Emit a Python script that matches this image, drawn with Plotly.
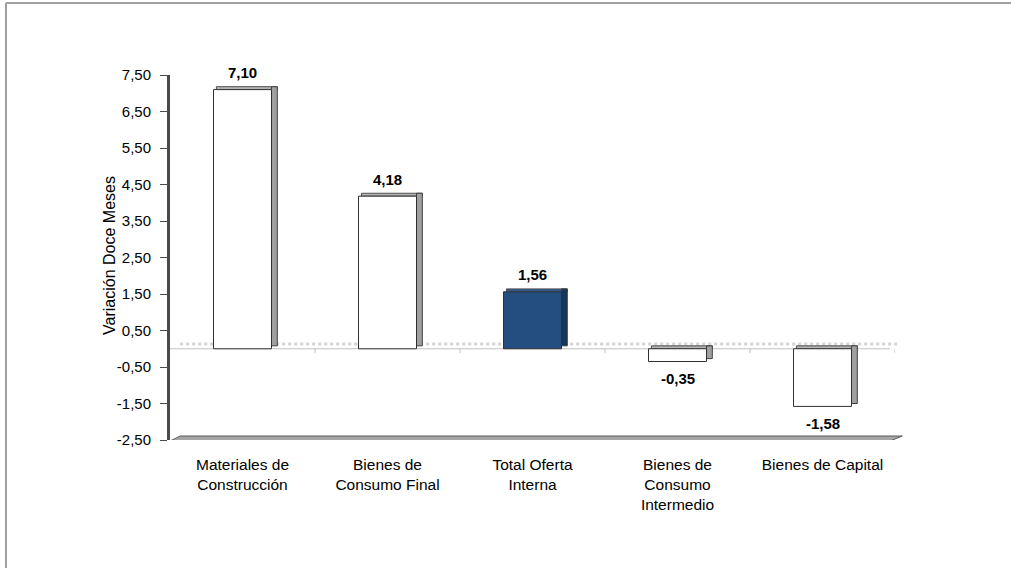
import plotly.graph_objects as go

categories = ["Materiales de<br>Construcción", "Bienes de<br>Consumo Final",
              "Total Oferta<br>Interna", "Bienes de<br>Consumo<br>Intermedio",
              "Bienes de Capital"]
values = [7.10, 4.18, 1.56, -0.35, -1.58]
y_ticks = [-2.5, -1.5, -0.5, 0.5, 1.5, 2.5, 3.5, 4.5, 5.5, 6.5, 7.5]
y_tick_text = [f"{t:.2f}".replace(".", ",") for t in y_ticks]
y_title = "Variación Doce Meses"

FONT = "Liberation Sans, Arial, sans-serif"
front_colors = ["#ffffff", "#ffffff", "#244e80", "#ffffff", "#ffffff"]
side_colors = ["#a0a0a0", "#a0a0a0", "#17365c", "#a0a0a0", "#a0a0a0"]
top_colors = ["#b4b4b4", "#b4b4b4", "#2d5a90", "#b4b4b4", "#b4b4b4"]
depth = 0.08  # in y units (3D depth illusion)

fig = go.Figure()

# top faces
fig.add_trace(go.Bar(
    x=categories, y=[depth] * len(values), base=[max(v, 0) for v in values],
    width=0.42, offset=-0.18,
    marker=dict(color=top_colors, line=dict(color="#505050", width=1)),
    hoverinfo="skip", showlegend=False))
# side faces
fig.add_trace(go.Bar(
    x=categories, y=[abs(v) for v in values], base=[min(v, 0) + depth for v in values],
    width=0.04, offset=0.2,
    marker=dict(color=side_colors, line=dict(color="#404040", width=1)),
    hoverinfo="skip", showlegend=False))
# front faces
fig.add_trace(go.Bar(
    x=categories, y=values, width=0.4, offset=-0.2,
    marker=dict(color=front_colors, line=dict(color="#303030", width=1)),
    showlegend=False))

for c, v in zip(categories, values):
    fig.add_annotation(x=c, y=v, text="<b>" + f"{v:.2f}".replace(".", ",") + "</b>",
                       showarrow=False, yshift=17 if v >= 0 else -17,
                       yanchor="middle", xanchor="center",
                       font=dict(family=FONT, size=15, color="black"))

# y-axis title
fig.add_annotation(xref="paper", yref="paper", x=-0.0828, y=0.507, text=y_title,
                   textangle=-90, showarrow=False, xanchor="center", yanchor="middle",
                   font=dict(family=FONT, size=16, color="black"))

shapes = []
# back-wall dotted line near zero
shapes.append(dict(type="line", xref="paper", yref="y", x0=0.014, x1=1.007,
                   y0=0.13, y1=0.13, line=dict(color="#d4d4d4", width=3, dash="dot"),
                   layer="below"))
# zero line
shapes.append(dict(type="line", xref="paper", yref="y", x0=0, x1=0.993,
                   y0=0, y1=0, line=dict(color="#c0c0c0", width=1), layer="below"))
for i in range(len(categories)):
    shapes.append(dict(type="line", xref="x", yref="y", x0=i + 0.5, x1=i + 0.5,
                       y0=0, y1=-0.12, line=dict(color="#c0c0c0", width=1), layer="below"))
# floor
shapes.append(dict(type="path", xref="paper", yref="y",
                   path="M 0,-2.53 L 0.993,-2.53 L 1.010,-2.39 L 0.014,-2.39 Z",
                   fillcolor="#a6a6a6", line=dict(color="#5a5a5a", width=1)))
# outer frame (top and left)
shapes.append(dict(type="line", xref="paper", yref="paper", x0=-0.2262, x1=1.16,
                   y0=1.1973, y1=1.1973, line=dict(color="#a0a0a0", width=2)))
shapes.append(dict(type="line", xref="paper", yref="paper", x0=-0.2262, x1=-0.2262,
                   y0=1.1973, y1=-0.36, line=dict(color="#a0a0a0", width=2)))

fig.update_layout(
    width=1011, height=568,
    margin=dict(l=170, r=116, t=75, b=128),
    paper_bgcolor="white", plot_bgcolor="white",
    barmode="overlay", bargap=0.6,
    separators=",.",
    font=dict(family=FONT, size=15, color="black"),
    shapes=shapes,
    xaxis=dict(type="category", range=[-0.5, 4.5], showline=False, showgrid=False,
               ticks="", zeroline=False, ticklabelstandoff=13,
               tickfont=dict(family=FONT, size=15.5, color="black")),
    yaxis=dict(range=[-2.5, 7.5], tickvals=y_ticks, ticktext=y_tick_text,
               showline=True, linecolor="#4a4a4a", linewidth=3,
               ticks="outside", ticklen=7, tickcolor="#4a4a4a", tickwidth=1,
               ticklabelstandoff=6,
               showgrid=False, zeroline=False,
               tickfont=dict(family=FONT, size=15, color="black")),
)

fig.write_html("out.html", config={"displayModeBar": False},
               post_script="document.body.style.margin='0';")
